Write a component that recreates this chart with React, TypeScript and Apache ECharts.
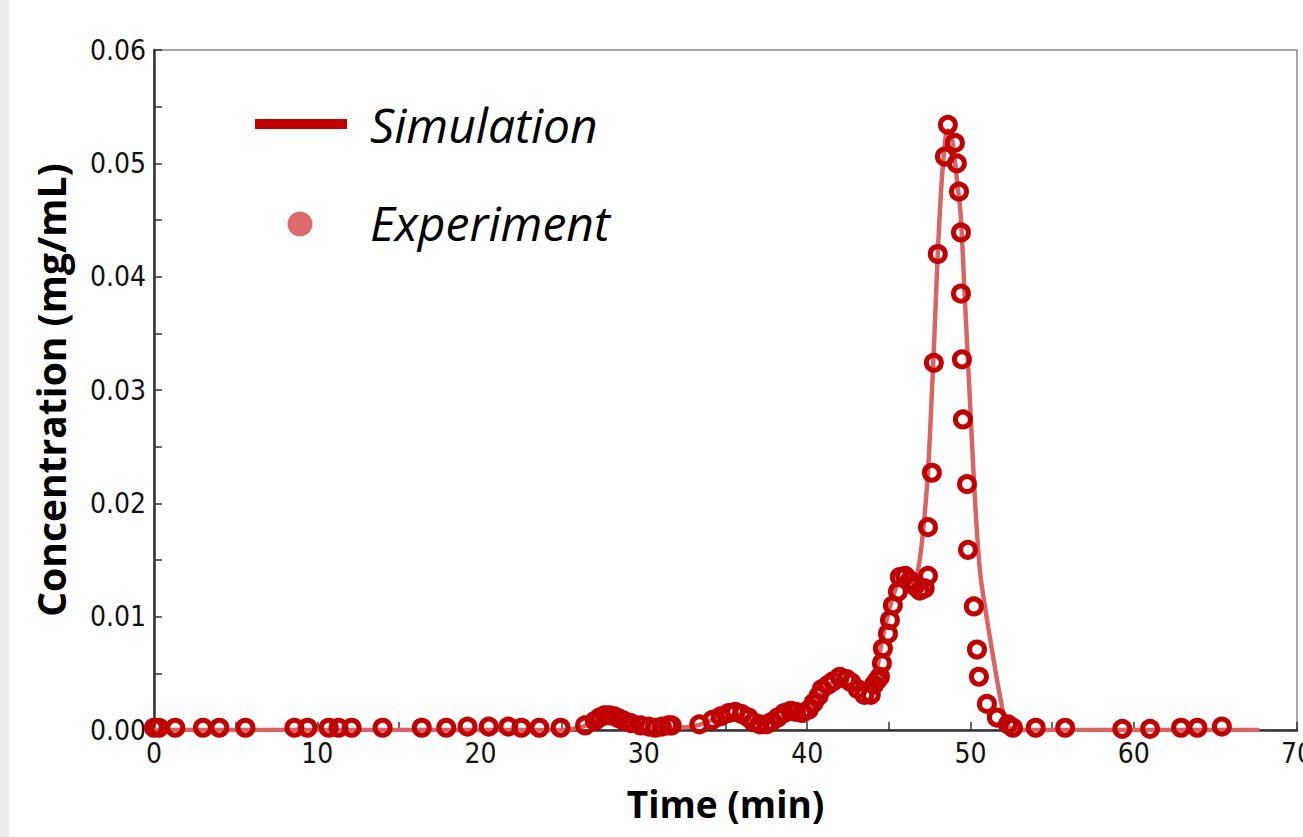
import React, { useEffect, useRef } from "react";
import * as echarts from "echarts";

// Simulation curve (time in min, concentration in mg/mL)
const simTime = [0, 25, 26, 27.5, 28.5, 29.5, 30.5, 32, 33.5, 35, 36, 37, 38, 39, 40, 41, 42, 43, 44, 44.6, 45.2, 45.8, 46.5, 46.8, 47.1, 47.4, 47.6, 47.8, 48.0, 48.2, 48.4, 48.6, 48.8, 49.0, 49.2, 49.4, 49.66, 49.97, 50.28, 50.58, 50.9, 51.19, 51.5, 51.81, 52.1, 52.4, 53, 67.7];
const simConc = [0, 0, 0.0002, 0.0008, 0.0008, 0.0004, 0.0002, 0.0002, 0.0005, 0.0013, 0.0012, 0.0006, 0.0009, 0.0015, 0.0018, 0.0035, 0.0045, 0.0036, 0.0042, 0.008, 0.0115, 0.0132, 0.013, 0.0142, 0.0175, 0.0228, 0.0285, 0.035, 0.042, 0.0475, 0.0512, 0.0529, 0.0526, 0.0508, 0.0482, 0.0455, 0.038, 0.0291, 0.0203, 0.0141, 0.0108, 0.0082, 0.0055, 0.003, 0.001, 0.0002, 0, 0];

// Experimental points
const expTime = [0, 0.3, 1.3, 3.0, 4.0, 5.6, 8.6, 9.4, 10.7, 11.3, 12.1, 14.0, 16.4, 17.9, 19.2, 20.5, 21.7, 22.5, 23.6, 24.9, 26.4, 27.0, 27.3, 27.6, 27.9, 28.2, 28.5, 28.8, 29.2, 29.8, 30.3, 30.7, 31.1, 31.5, 31.7, 33.4, 34.2, 34.7, 35.2, 35.6, 36.0, 36.4, 36.7, 37.1, 37.5, 37.8, 38.2, 38.6, 39.0, 39.3, 39.7, 40.1, 40.4, 40.7, 40.9, 41.3, 41.6, 42.0, 42.4, 42.7, 43.1, 43.5, 43.9, 44.1, 44.3, 44.46, 44.58, 44.64, 44.95, 45.07, 45.25, 45.56, 45.68, 46.0, 46.3, 46.6, 46.9, 47.2, 47.4, 47.4, 47.64, 47.76, 48.0, 48.44, 48.62, 49.05, 49.17, 49.3, 49.42, 49.42, 49.48, 49.54, 49.79, 49.85, 50.21, 50.4, 50.52, 51.01, 51.62, 52.3, 52.6, 54.0, 55.8, 59.3, 61.0, 62.9, 63.9, 65.4];
const expConc = [0.0002, 0.0002, 0.0002, 0.0002, 0.0002, 0.0002, 0.0002, 0.0002, 0.0002, 0.0002, 0.0002, 0.0002, 0.0002, 0.0002, 0.0003, 0.0003, 0.0003, 0.0002, 0.0002, 0.0002, 0.0004, 0.0008, 0.0011, 0.0013, 0.0013, 0.0012, 0.001, 0.0008, 0.0006, 0.0004, 0.0003, 0.0002, 0.0003, 0.0004, 0.0004, 0.0005, 0.0009, 0.0012, 0.0015, 0.0016, 0.0014, 0.0011, 0.0007, 0.0005, 0.0005, 0.0007, 0.0011, 0.0015, 0.0017, 0.0016, 0.0015, 0.0018, 0.0024, 0.003, 0.0036, 0.004, 0.0043, 0.0047, 0.0045, 0.0042, 0.0036, 0.0031, 0.0031, 0.004, 0.0044, 0.0047, 0.0059, 0.0072, 0.0085, 0.0097, 0.011, 0.0122, 0.0135, 0.0136, 0.0132, 0.0127, 0.0123, 0.0125, 0.0136, 0.0179, 0.0227, 0.0324, 0.042, 0.0506, 0.0534, 0.0518, 0.05, 0.0475, 0.0439, 0.0385, 0.0327, 0.0274, 0.0217, 0.0159, 0.0109, 0.0071, 0.0047, 0.0023, 0.0011, 0.0005, 0.0002, 0.0002, 0.0002, 0.0001, 0.0001, 0.0002, 0.0002, 0.0003];

const xMin = 0, xMax = 70, xStep = 10;
const yMin = 0, yMax = 0.06, yStep = 0.01;
const seriesNames = ["Simulation", "Experiment"];
const xTitle = "Time (min)";
const yTitle = "Concentration (mg/mL)";

const tickFont = "'Liberation Sans Narrow', 'DejaVu Sans Condensed', sans-serif";
const titleFont = "'Open Sans', 'Noto Sans', sans-serif";

export default function App() {
  const ref = useRef<HTMLDivElement>(null);
  useEffect(() => {
    document.body.style.margin = "0";
    const chart = echarts.init(ref.current!, null, { renderer: "svg" });
    const axisCommon = {
      type: "value",
      axisLine: { show: true, onZero: false, lineStyle: { color: "#333", width: 2.5 } },
      axisTick: { show: true, inside: true, length: 8, lineStyle: { color: "#333", width: 1.5 } },
      minorTick: { show: true, splitNumber: 2, length: 8, lineStyle: { color: "#333", width: 1.5 } },
      splitLine: { show: false },
      nameLocation: "middle",
    };
    chart.setOption({
      animation: false,
      backgroundColor: "#fff",
      grid: {
        left: 154, right: 6, top: 50, bottom: 107,
        show: true, borderColor: "#8a8a8a", borderWidth: 1.5,
        containLabel: false, outerBoundsMode: "none",
      },
      xAxis: {
        ...axisCommon,
        min: xMin, max: xMax, interval: xStep,
        axisLabel: { fontSize: 28, color: "#111", margin: 9, fontFamily: tickFont },
        name: xTitle,
        nameGap: 55,
        nameTextStyle: { fontSize: 37, fontWeight: "bold", color: "#000", fontFamily: titleFont },
      },
      yAxis: {
        ...axisCommon,
        min: yMin, max: yMax, interval: yStep,
        axisLabel: { fontSize: 28, color: "#111", margin: 8, fontFamily: tickFont, formatter: (v: number) => v.toFixed(2) },
        name: yTitle,
        nameRotate: 90,
        nameGap: 84,
        nameTextStyle: { fontSize: 39, fontWeight: "bold", color: "#000", fontFamily: titleFont },
      },
      series: [
        {
          name: seriesNames[0],
          type: "line",
          data: simTime.map((t, i) => [t, simConc[i]]),
          showSymbol: false,
          smooth: 0.35,
          lineStyle: { color: "#d96464", width: 4.5 },
          z: 2,
        },
        {
          name: seriesNames[1],
          type: "scatter",
          data: expTime.map((t, i) => [t, expConc[i]]),
          symbol: "circle",
          symbolSize: 15,
          itemStyle: { color: "rgba(255,255,255,0)", borderColor: "#c00000", borderWidth: 5, opacity: 1 },
          z: 3,
        },
      ],
      graphic: [
        { type: "rect", left: 0, top: 0, shape: { width: 9, height: 837 }, style: { fill: "#ebebeb" }, silent: true },
        { type: "rect", shape: { x: 255, y: 119, width: 92, height: 10 }, style: { fill: "#c00000" } },
        { type: "circle", shape: { cx: 300, cy: 224, r: 12.5 }, style: { fill: "#dd6a6a" } },
        {
          type: "text",
          style: { text: seriesNames[0], x: 370, y: 124, fontSize: 48, fontStyle: "italic", fontFamily: titleFont, fill: "#000", verticalAlign: "middle" },
        },
        {
          type: "text",
          style: { text: seriesNames[1], x: 370, y: 222, fontSize: 48, fontStyle: "italic", fontFamily: titleFont, fill: "#000", verticalAlign: "middle" },
        },
      ],
    });
    return () => chart.dispose();
  }, []);
  return <div ref={ref} style={{ position: "absolute", left: 0, top: 0, width: 1303, height: 837, overflow: "hidden" }} />;
}
